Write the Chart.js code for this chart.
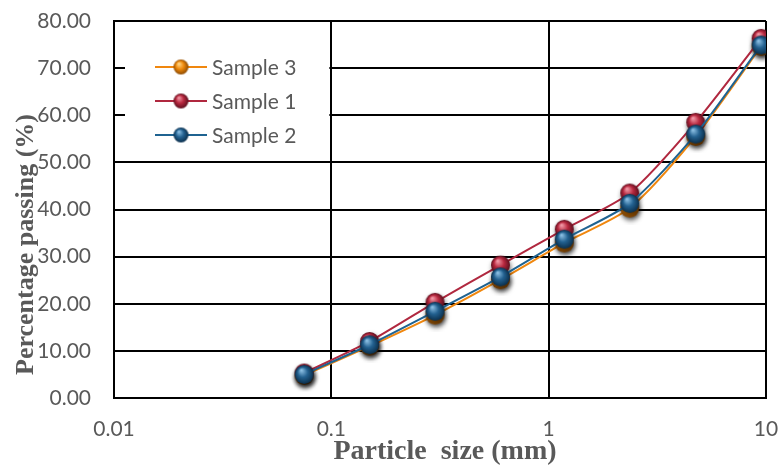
<!DOCTYPE html>
<html lang="en">
<head>
  <meta charset="UTF-8">
  <title>Particle size distribution</title>
  <script src="https://cdn.jsdelivr.net/npm/chart.js"></script>
  <style>
    body {
      margin: 0;
      padding: 0;
      background: #fff;
    }
    #gradingChart {
      display: block;
    }
  </style>
</head>
<body>
  <canvas id="gradingChart" width="780" height="469"></canvas>
  <script>
    // sieve sizes (mm) and percentage passing for each sample
    const sieveSizes = [0.075, 0.15, 0.3, 0.6, 1.18, 2.36, 4.75, 9.5];
    const sample3 = [4.8, 11.0, 17.6, 25.1, 32.9, 40.3, 55.5, 74.6];
    const sample1 = [5.3, 12.0, 20.3, 28.2, 35.8, 43.5, 58.5, 76.3];
    const sample2 = [5.0, 11.3, 18.4, 25.7, 33.7, 41.3, 56.0, 74.9];

    const xTickValues = [0.01, 0.1, 1, 10];
    const xTickLabels = ['0.01', '0.1', '1', '10'];

    const xTitle = 'Particle  size (mm)';
    const yTitle = 'Percentage passing (%)';
    const textGray = '#595959';

    /**
     * Build a shaded ball image to use as point style
     */
    function makeSphere(light, base, dark, r, shadow) {
      const size = r * 2 + 14;
      const c = document.createElement('canvas');
      c.width = size;
      c.height = size;
      const g = c.getContext('2d');
      const cx = size / 2, cy = size / 2;
      if (shadow) {
        g.shadowColor = 'rgba(0,0,0,0.6)';
        g.shadowBlur = 5;
        g.shadowOffsetX = 1;
        g.shadowOffsetY = 3;
      }
      const grad = g.createRadialGradient(cx - r * 0.3, cy - r * 0.45, r * 0.05, cx, cy, r);
      grad.addColorStop(0, light);
      grad.addColorStop(0.5, base);
      grad.addColorStop(1, dark);
      g.fillStyle = grad;
      g.beginPath();
      g.arc(cx, cy, r, 0, Math.PI * 2);
      g.fill();
      return c;
    }

    const styles = {
      orange: { line: '#F0870E', light: '#ffd88a', base: '#f08a0c', dark: '#8c4a02' },
      red: { line: '#B0283F', light: '#f29aa8', base: '#b8283f', dark: '#5c0f1e' },
      blue: { line: '#1F6391', light: '#8cc0e4', base: '#236190', dark: '#0b2f4c' },
    };

    function toPoints(values) {
      return sieveSizes.map((s, i) => ({ x: s, y: values[i] }));
    }

    function makeDataset(label, values, st, order) {
      return {
        label: label,
        data: toPoints(values),
        borderColor: st.line,
        backgroundColor: st.line,
        borderWidth: 2,
        tension: 0.25,
        pointStyle: makeSphere(st.light, st.base, st.dark, 9.5, true),
        legendStyle: makeSphere(st.light, st.base, st.dark, 7.5, false),
        pointRadius: 9,
        order: order,
      };
    }

    // legend drawn inside the plot on a white box, like the original
    const legendBox = {
      id: 'legendBox',
      beforeDatasetsDraw(chart) {
        const ctx = chart.ctx;
        const area = chart.chartArea;
        const x0 = area.left + 11;
        const x1 = chart.scales.x.getPixelForValue(0.1) - 2;
        ctx.save();
        ctx.fillStyle = '#fff';
        ctx.fillRect(x0, area.top + 9, x1 - x0, 125);
        ctx.font = '21px Lato';
        ctx.textBaseline = 'middle';
        chart.data.datasets.forEach((ds, i) => {
          const y = area.top + 46 + i * 34;
          ctx.strokeStyle = ds.borderColor;
          ctx.lineWidth = 2;
          ctx.beginPath();
          ctx.moveTo(155, y);
          ctx.lineTo(207, y);
          ctx.stroke();
          const img = ds.legendStyle;
          ctx.drawImage(img, 181 - img.width / 2, y - img.height / 2);
          ctx.fillStyle = textGray;
          ctx.fillText(ds.label, 212, y + 1);
        });
        ctx.restore();
      },
    };

    // axis titles: the y title sits over the tick labels in the original
    const axisTitles = {
      id: 'axisTitles',
      afterDraw(chart) {
        const ctx = chart.ctx;
        const area = chart.chartArea;
        ctx.save();
        ctx.fillStyle = textGray;
        ctx.textAlign = 'center';
        ctx.font = 'bold 28px "Liberation Serif"';
        ctx.textBaseline = 'alphabetic';
        ctx.fillText(xTitle, (area.left + area.right) / 2 + 5, 459);
        ctx.font = 'bold 26px "Liberation Serif"';
        ctx.translate(33, (area.top + area.bottom) / 2 + 35);
        ctx.rotate(-Math.PI / 2);
        ctx.fillText(yTitle, 0, 0);
        ctx.restore();
      },
    };

    // keep tick labels from pushing the plot area inwards
    function noPad(scale) {
      scale.paddingTop = 0;
      scale.paddingBottom = 0;
      scale.paddingLeft = 0;
      scale.paddingRight = 0;
    }

    const tickFont = { family: 'Lato', size: 21 };

    new Chart(document.getElementById('gradingChart'), {
      type: 'line',
      data: {
        datasets: [
          makeDataset('Sample 3', sample3, styles.orange, 3),
          makeDataset('Sample 1', sample1, styles.red, 2),
          makeDataset('Sample 2', sample2, styles.blue, 1),
        ],
      },
      options: {
        responsive: false,
        animation: false,
        layout: { padding: { top: 21, right: 14, left: 0, bottom: 0 } },
        plugins: {
          legend: { display: false },
          tooltip: { enabled: false },
        },
        scales: {
          x: {
            type: 'logarithmic',
            min: 0.01,
            max: 10,
            afterBuildTicks: (scale) => {
              scale.ticks = xTickValues.map((v) => ({ value: v }));
            },
            afterFit: (scale) => { scale.height = 71; noPad(scale); },
            ticks: {
              callback: (v, i) => xTickLabels[i],
              font: tickFont,
              color: textGray,
              padding: 19,
              maxRotation: 0,
              autoSkip: false,
            },
            grid: { color: '#000', lineWidth: 2, drawTicks: false },
            border: { color: '#000', width: 2 },
          },
          y: {
            min: 0,
            max: 80,
            afterFit: (scale) => { scale.width = 114; noPad(scale); },
            ticks: {
              stepSize: 10,
              callback: (v) => v.toFixed(2),
              font: tickFont,
              color: textGray,
              padding: 23,
            },
            grid: { color: '#000', lineWidth: 2, drawTicks: false },
            border: { color: '#000', width: 2 },
          },
        },
      },
      plugins: [legendBox, axisTitles],
    });
  </script>
</body>
</html>
